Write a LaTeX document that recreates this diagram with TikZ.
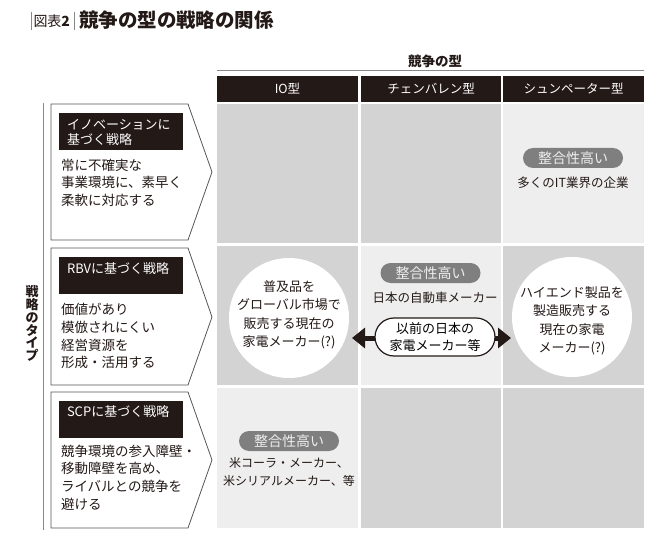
\documentclass[tikz,border=0pt]{standalone}
\usepackage{fontspec}
\setmainfont{Noto Sans CJK JP}
\usetikzlibrary{arrows.meta,shapes.misc}
\definecolor{ink}{HTML}{231916}
\definecolor{cdark}{HTML}{D3D3D3}
\definecolor{clight}{HTML}{EEEEEE}
\definecolor{pillc}{HTML}{7F7F7F}
\definecolor{edgec}{HTML}{555555}
\definecolor{rulec}{HTML}{888888}
\newcommand\fsz[2]{\fontsize{#1}{#2}\selectfont}
\begin{document}
\begin{tikzpicture}[x=1pt,y=-1pt,
  every node/.style={inner sep=0pt, outer sep=0pt},
  hdr/.style={fill=ink, text=white, minimum height=26pt, font=\fsz{12.5}{15}},
  pent/.style={draw=edgec, line width=0.8pt, fill=white},
  lblbox/.style={fill=ink},
  lbltext/.style={anchor=north west, align=left, text=white, font=\fsz{13}{15}},
  bodytext/.style={anchor=north west, align=left, text=ink, font=\fsz{13.5}{17.6}},
  bigcirc/.style={circle, fill=white, minimum size=120pt},
  circtext/.style={anchor=north, align=center, text=ink, font=\fsz{13}{18.3}},
  pill/.style={rounded rectangle, fill=pillc, text=clight, minimum width=100pt, minimum height=20pt, font=\fsz{14}{16}},
  celltext/.style={align=center, text=ink, font=\fsz{12.5}{18}},
  ovalbox/.style={rounded rectangle, draw=ink, line width=1.2pt, fill=white, minimum width=120pt, minimum height=38pt, align=center, font=\fsz{13}{17}},
  bigarr/.style={draw=ink, line width=5pt, -{Triangle[length=13pt,width=20pt]}}
]
\useasboundingbox (0,0) rectangle (670,559);
\fill[white] (0,0) rectangle (670,559);

% title
\draw[rulec, line width=0.8pt] (31,12) -- (31,30);
\draw[rulec, line width=0.8pt] (74,12) -- (74,30);
\node[anchor=west, text=ink, font=\fsz{14}{16}] (fig) at (33.5,21) {図表\textbf{2}};
\node[anchor=west, text=ink, font=\bfseries\fsz{19.5}{22}] (ttl) at (79,20.5) {競争の型の戦略の関係};

% column header
\node[text=ink, font=\bfseries\fsz{13.5}{16}] (comp) at (435,61) {競争の型};
\draw[rulec, line width=1pt] (217,70.7) -- (644,70.7);
\node[hdr, minimum width=141pt] (h1) at (287.5,89) {IO型};
\node[hdr, minimum width=140pt] (h2) at (431,89) {チェンバレン型};
\node[hdr, minimum width=141pt] (h3) at (573.5,89) {シュンペーター型};

% cells
\fill[cdark]  (217,104) rectangle (358,243);
\fill[cdark]  (361,104) rectangle (501,243);
\fill[clight] (503,104) rectangle (644,243);
\fill[cdark]  (217,246) rectangle (358,385);
\fill[clight] (361,246) rectangle (501,385);
\fill[cdark]  (503,246) rectangle (644,385);
\fill[clight] (217,388) rectangle (358,528);
\fill[cdark]  (361,388) rectangle (501,528);
\fill[cdark]  (503,388) rectangle (644,528);

% row label
\draw[rulec, line width=1pt] (43,103) -- (43,530);
\node[align=center, text=ink, font=\bfseries\fsz{13}{12.9}] (vt) at (32,323.5) {戦\\略\\の\\タ\\イ\\プ};

% strategy boxes
\draw[pent] (51,104) -- (188,104) -- (212,172) -- (188,240) -- (51,240) -- cycle;
\fill[lblbox] (59,113) rectangle (183,150);
\node[lbltext] (l1) at (67,119) {イノベーションに\\基づく戦略};
\node[bodytext] (b1) at (61,159) {常に不確実な\\事業環境に、素早く\\柔軟に対応する};

\draw[pent] (51,248) -- (188,248) -- (212,317) -- (188,385) -- (51,385) -- cycle;
\fill[lblbox] (59,257) rectangle (183,294);
\node[lbltext] (l2) at (67,262.5) {RBVに基づく戦略};
\node[bodytext] (b2) at (61,303.5) {価値があり\\模倣されにくい\\経営資源を\\形成・活用する};

\draw[pent] (51,392) -- (188,392) -- (212,460) -- (188,528) -- (51,528) -- cycle;
\fill[lblbox] (59,401) rectangle (183,438);
\node[lbltext] (l3) at (67,405.5) {SCPに基づく戦略};
\node[bodytext] (b3) at (61,445) {競争環境の参入障壁・\\移動障壁を高め、\\ライバルとの競争を\\避ける};

% row 1 col 3
\node[pill] (p1) at (573,158) {整合性高い};
\node[celltext] (t1) at (573,183) {多くのIT業界の企業};

% row 2
\node[bigcirc] (lc) at (289,318) {};
\node[circtext] (lct) at (289,280.5) {普及品を\\グローバル市場で\\販売する現在の\\家電メーカー(?)};
\node[bigcirc] (rc) at (572,317) {};
\node[circtext] (rct) at (572,286.5) {ハイエンド製品を\\製造販売する\\現在の家電\\メーカー(?)};
\node[pill] (p2) at (430.5,273) {整合性高い};
\node[celltext] (t2) at (435,298) {日本の自動車メーカー};
\coordinate (la) at (352,338);
\coordinate (ra) at (511,338);
\node[ovalbox] (ov) at (435,337) {以前の日本の\\家電メーカー等};
\draw[bigarr] (ov.west |- la) -- (la);
\draw[bigarr] (ov.east |- ra) -- (ra);

% row 3 col 1
\node[pill] (p3) at (289,441) {整合性高い};
\node[celltext, font=\fsz{12}{18}] (t3) at (289,472) {米コーラ・メーカー、\\米シリアルメーカー、等};
\end{tikzpicture}
\end{document}
